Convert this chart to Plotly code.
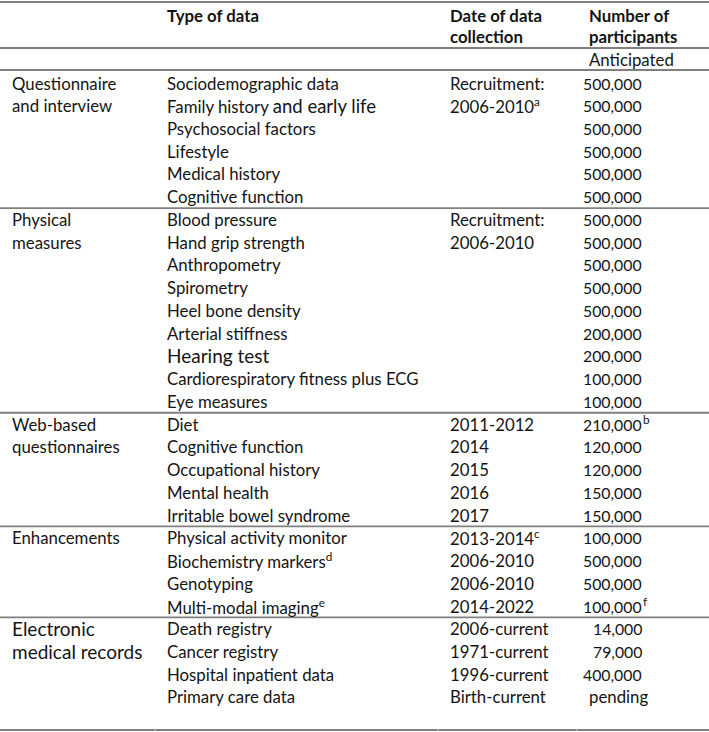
import plotly.graph_objects as go

# --- Table content ---
GROUPS = [
    ["Questionnaire", "and interview"],
    ["Physical", "measures"],
    ["Web-based", "questionnaires"],
    ["Enhancements"],
    ["Electronic", "medical records"],
]
GROUP_SIZES = [6, 9, 5, 4, 4]

DATA_TYPES = [
    "Sociodemographic data",
    "Family history <span style='font-size:18.5px'>and early life</span>",
    "Psychosocial factors",
    "Lifestyle",
    "Medical history",
    "Cognitive function",
    "Blood pressure",
    "Hand grip strength",
    "Anthropometry",
    "Spirometry",
    "Heel bone density",
    "Arterial stiffness",
    "<span style='font-size:19px'>Hearing test</span>",
    "Cardiorespiratory fitness plus ECG",
    "Eye measures",
    "Diet",
    "Cognitive function",
    "Occupational history",
    "Mental health",
    "Irritable bowel syndrome",
    "Physical activity monitor",
    "Biochemistry markers<sup>d</sup>",
    "Genotyping",
    "Multi-modal imaging<sup>e</sup>",
    "Death registry",
    "Cancer registry",
    "Hospital inpatient data",
    "Primary care data",
]

DATES = [
    "Recruitment:", "2006-2010<sup>a</sup>", "", "", "", "",
    "Recruitment:", "2006-2010", "", "", "", "", "", "", "",
    "2011-2012", "2014", "2015", "2016", "2017",
    "2013-2014<sup>c</sup>", "2006-2010", "2006-2010", "2014-2022",
    "2006-current", "1971-current", "1996-current", "Birth-current",
]

PARTICIPANTS = [
    500000, 500000, 500000, 500000, 500000, 500000,
    500000, 500000, 500000, 500000, 500000, 200000, 200000, 100000, 100000,
    210000, 120000, 120000, 150000, 150000,
    100000, 500000, 500000, 100000,
    14000, 79000, 400000, None,
]
PARTICIPANT_NOTES = {15: "b", 23: "f"}

HEADERS = ["<b>Type of data</b>", "<b>Date of data</b>", "<b>Number of</b>"]
HEADERS_2 = ["", "<b>collection</b>", "<b>participants</b>"]

# --- Style ---
FONT = "Lato, 'Open Sans', sans-serif"
TEXT_COLOR = "#141414"
LINE_COLOR = "#808080"
FS = 16.8
FS_NUM = 15.8

X_GROUP, X_TYPE, X_DATE, X_NUM, X_NUM_RIGHT = 10, 165, 448, 587, 644
COL_TICKS = [155, 438, 577]

ROW_H = 22.74
ROW0 = 83


def px_to_row(py):
    return (py - ROW0) / ROW_H


fig = go.Figure()
# invisible trace to set up the axes
fig.add_trace(go.Scatter(x=[0, 709], y=[0, len(DATA_TYPES) - 1], mode="markers",
                         marker=dict(opacity=0), hoverinfo="skip", showlegend=False))

ann = []


def add_text(x, y, text, size=FS, anchor="left"):
    ann.append(dict(x=x, y=y, xref="x", yref="y", text=text, showarrow=False,
                    xanchor=anchor, yanchor="middle",
                    font=dict(family=FONT, size=size, color=TEXT_COLOR)))


# header
add_text(X_TYPE, px_to_row(15), HEADERS[0])
add_text(X_DATE, px_to_row(15), HEADERS[1])
add_text(X_DATE, px_to_row(36), HEADERS_2[1])
add_text(X_NUM, px_to_row(15), HEADERS[2])
add_text(X_NUM, px_to_row(36), HEADERS_2[2])
add_text(X_NUM, px_to_row(59), "Anticipated")

# group labels
start = 0
bounds = []
for g, (labels, n) in enumerate(zip(GROUPS, GROUP_SIZES)):
    size = 19 if g == len(GROUPS) - 1 else FS
    for k, lab in enumerate(labels):
        add_text(X_GROUP, start + k, lab, size=size)
    start += n
    bounds.append(start - 0.5)

# rows
for i, (t, d, p) in enumerate(zip(DATA_TYPES, DATES, PARTICIPANTS)):
    add_text(X_TYPE, i, t)
    if d:
        add_text(X_DATE, i, d)
    if p is None:
        add_text(X_NUM, i, "pending")
    else:
        add_text(X_NUM_RIGHT, i, f"{p:,}", size=FS_NUM, anchor="right")
        if i in PARTICIPANT_NOTES:
            add_text(X_NUM_RIGHT - 3, i - 0.2, f"<sup>{PARTICIPANT_NOTES[i]}</sup>")

# horizontal rules
shapes = []
rule_rows = [px_to_row(2), px_to_row(48), px_to_row(70)] + bounds[:-1] + [px_to_row(730)]
for r in rule_rows:
    shapes.append(dict(type="line", xref="x", yref="y", x0=0, x1=709, y0=r, y1=r,
                       line=dict(color=LINE_COLOR, width=1.8)))
# small column ticks on the bottom rule
for cx in COL_TICKS:
    shapes.append(dict(type="line", xref="x", yref="y", x0=cx, x1=cx,
                       y0=px_to_row(728.5), y1=px_to_row(731.5),
                       line=dict(color="#cfcfcf", width=1)))

fig.update_layout(
    width=709, height=732,
    margin=dict(l=0, r=0, t=0, b=0),
    paper_bgcolor="white", plot_bgcolor="white",
    xaxis=dict(range=[0, 709], visible=False, fixedrange=True),
    yaxis=dict(range=[px_to_row(732), px_to_row(0)], visible=False, fixedrange=True),
    annotations=ann, shapes=shapes,
    showlegend=False,
)

# drop the default page margin so the table sits flush in the window
fig.write_html("out.html", config={"displayModeBar": False},
               post_script="document.body.style.margin='0';document.body.style.overflow='hidden';")
